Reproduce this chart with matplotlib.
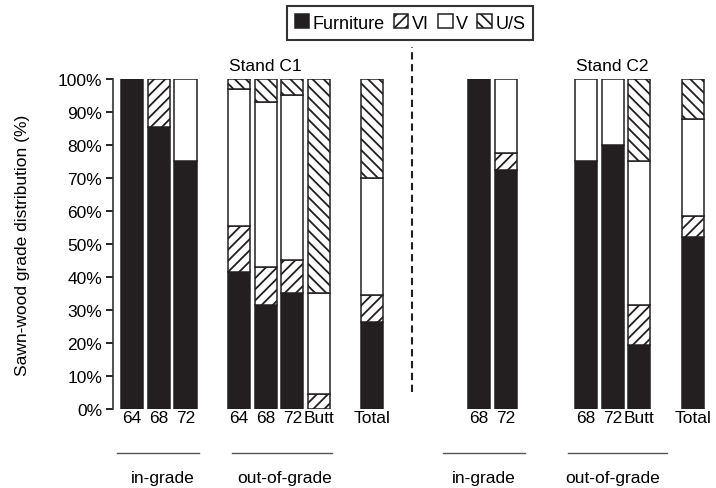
import numpy as np
import matplotlib.pyplot as plt
from matplotlib.patches import Patch

plt.rcParams['font.family'] = ['Liberation Sans', 'DejaVu Sans']
plt.rcParams['font.size'] = 12.5
plt.rcParams['hatch.linewidth'] = 1.3

# one slot per category, '' = empty gap slot
slot_labels = ['64', '68', '72', '', '64', '68', '72', 'Butt', '', 'Total', '', '',
               '', '68', '72', '', '', '68', '72', 'Butt', '', 'Total']

furniture = [100, 85.5, 75, None, 41.5, 31.5, 35, 0, None, 26.5, None, None,
             None, 100, 72.5, None, None, 75, 80, 19.5, None, 52]
vi = [0, 14.5, 0, None, 14, 11.5, 10, 4.5, None, 8, None, None,
      None, 0, 5, None, None, 0, 0, 12, None, 6.5]
v = [0, 0, 25, None, 41.5, 50, 50, 30.5, None, 35.5, None, None,
     None, 0, 22.5, None, None, 25, 20, 43.5, None, 29.5]
us = [0, 0, 0, None, 3, 7, 5, 65, None, 30, None, None,
      None, 0, 0, None, None, 0, 0, 25, None, 12]

series_names = ['Furniture', 'VI', 'V', 'U/S']
series = [furniture, vi, v, us]

stand_titles = ['Stand C1', 'Stand C2']
group_names = ['in-grade', 'out-of-grade', 'in-grade', 'out-of-grade']

dark = '#231f20'
styles = [dict(facecolor=dark, hatch=None),
          dict(facecolor='white', hatch='///'),
          dict(facecolor='white', hatch=None),
          dict(facecolor='white', hatch='\\\\\\')]

fig = plt.figure(figsize=(7.16, 4.89), dpi=100)
ax = fig.add_axes([0.158, 0.1616, 0.832, 0.6748])

x = np.arange(len(slot_labels))
bottom = np.zeros(len(slot_labels))
for vals, st in zip(series, styles):
    h = np.array([np.nan if val is None else val for val in vals], dtype=float)
    keep = ~np.isnan(h) & (h > 0)
    ax.bar(x[keep], h[keep], bottom=bottom[keep], width=0.83,
           facecolor=st['facecolor'], hatch=st['hatch'],
           edgecolor=dark, linewidth=1.1)
    bottom = bottom + np.nan_to_num(h)

ax.set_xlim(-0.71, 21.6)
ax.set_ylim(0, 100)
ax.set_yticks(np.arange(0, 101, 10))
ax.set_yticklabels([f'{t}%' for t in range(0, 101, 10)])
ax.set_xticks(x)
ax.set_xticklabels(slot_labels)
ax.tick_params(axis='x', length=0, pad=1)
ax.tick_params(axis='y', length=5, width=1.2, direction='out', pad=3)
for s in ['top', 'right', 'bottom']:
    ax.spines[s].set_visible(False)
ax.spines['left'].set_linewidth(1.2)
ax.spines['left'].set_color('#333333')

ax.set_ylabel('Sawn-wood grade distribution (%)')
ax.yaxis.set_label_coords(-0.14, 0.5)

# stand titles
ax.text(5, 104, stand_titles[0], ha='center', va='center')
ax.text(18, 104, stand_titles[1], ha='center', va='center')

# dashed divider between stands
ax.plot([10.5, 10.5], [5.2, 109.7], color=dark, linestyle=(0, (3.5, 2.2)),
        linewidth=1.5, clip_on=False)

# group underlines and labels
line_spans = [(-0.56, 2.51), (3.75, 7.49), (11.65, 14.72), (16.33, 20.04)]
label_pos = [1.16, 5.73, 13.18, 17.98]
for (a, b), lp, name in zip(line_spans, label_pos, group_names):
    ax.plot([a, b], [-13.3, -13.3], color='#555555', linewidth=1, clip_on=False)
    ax.text(lp, -20.8, name, ha='center', va='center')

handles = [Patch(facecolor=st['facecolor'], hatch=st['hatch'], edgecolor=dark,
                 linewidth=1.1) for st in styles]
leg = fig.legend(handles, series_names, loc='center', bbox_to_anchor=(0.5726, 0.951),
                 ncol=4, frameon=True, fancybox=False, edgecolor='black',
                 handlelength=0.8, handleheight=0.8, handletextpad=0.2,
                 columnspacing=0.5, borderpad=0.45, fontsize=13)
leg.get_frame().set_linewidth(1.5)

fig.savefig('out.png', dpi=100)
